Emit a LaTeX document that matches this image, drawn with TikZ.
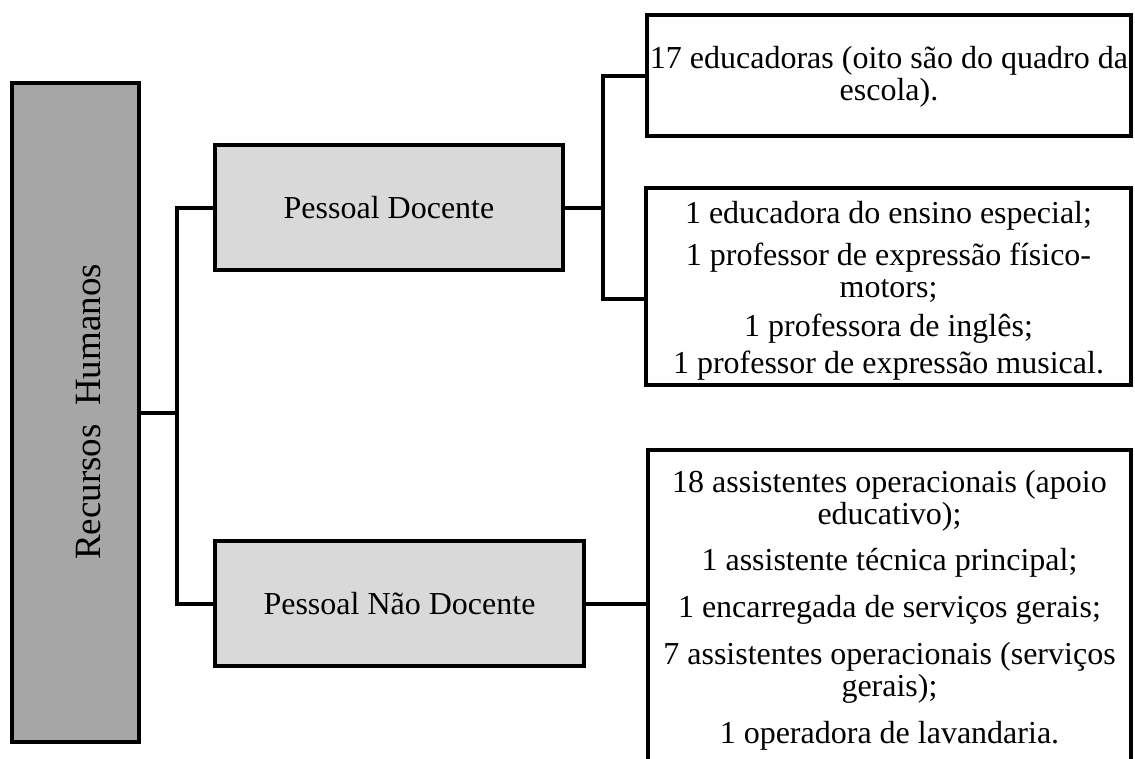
\documentclass[tikz,border=0pt]{standalone}
\usepackage{fontspec}
\setmainfont{Liberation Serif}
\definecolor{rhgray}{HTML}{A6A6A6}
\definecolor{subgray}{HTML}{D9D9D9}
\begin{document}
\begin{tikzpicture}[x=1pt,y=-1pt,
  box/.style={draw=black, line width=4pt, rectangle, inner sep=0pt,
    font=\fontsize{32}{32.5}\selectfont},
  conn/.style={draw=black, line width=4pt, line join=miter}]
\clip (0,0) rectangle (1135,758);
% root
\node[box, fill=rhgray, minimum width=127pt, minimum height=659pt] (RH) at (75.5,412.5) {};
\node[rotate=90, inner sep=0pt, font=\fontsize{37}{40}\selectfont] (RHlabel) at (88.5,412) {Recursos\ \ Humanos};
% second level
\node[box, fill=subgray, minimum width=348pt, minimum height=125pt] (PD) at (389,207.5) {Pessoal Docente};
\node[box, fill=subgray, minimum width=369pt, minimum height=125pt] (PND) at (399.5,603.5) {Pessoal Não Docente};
% leaves
\node[box, fill=white, minimum width=484pt, minimum height=121pt] (B1) at (889,75.5)
  {\begin{tabular}{@{}c@{}}17 educadoras (oito são do quadro da\\escola).\\[-4.5pt]\end{tabular}};
\node[box, fill=white, minimum width=485pt, minimum height=197pt] (B2) at (888.5,286.5)
  {\begin{tabular}{@{}c@{}}1 educadora do ensino especial;\\[9.5pt]
   1 professor de expressão físico-\\motors;\\[6pt]
   1 professora de inglês;\\[5pt]
   1 professor de expressão musical.\\[-10.5pt]\end{tabular}};
\node[box, fill=white, minimum width=483pt, inner xsep=0pt, inner ysep=19.25pt, anchor=north] (B3) at (889.5,448)
  {\begin{tabular}{@{}c@{}}18 assistentes operacionais (apoio\\educativo);\\[13pt]
   1 assistente técnica principal;\\[14.5pt]
   1 encarregada de serviços gerais;\\[14.5pt]
   7 assistentes operacionais (serviços\\gerais);\\[14pt]
   1 operadora de lavandaria.\end{tabular}};
% connectors
\coordinate (j1) at (177,412.5);
\coordinate (j2) at (603,207.5);
\draw[conn] (RH.east) -- (j1);
\draw[conn] (PD.west) -| (j1) |- (PND.west);
\draw[conn] (PD.east) -- (j2);
\draw[conn] (B1.west) -| (j2) |- ([yshift=-12.5pt]B2.west);
\draw[conn] (PND.east) -- (PND.east -| B3.west);
\end{tikzpicture}
\end{document}
